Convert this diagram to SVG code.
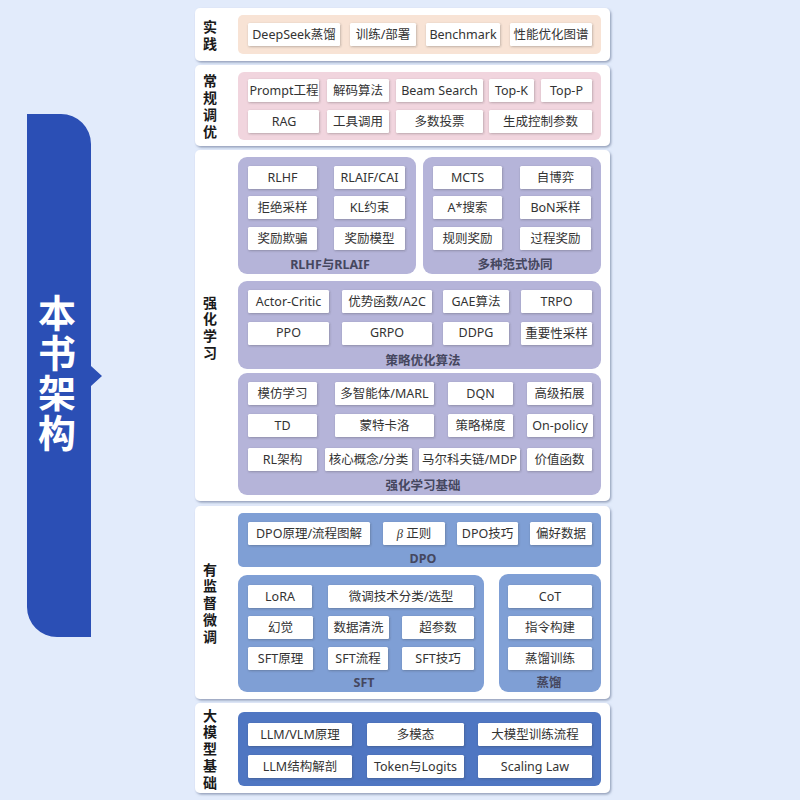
<svg xmlns="http://www.w3.org/2000/svg" width="800" height="800" viewBox="0 0 800 800">
<defs>
<filter id="sp" x="-5%" y="-10%" width="110%" height="120%"><feDropShadow dx="1.2" dy="1.5" stdDeviation="1.2" flood-color="#5a6a8a" flood-opacity="0.6"/></filter>
<filter id="sb" x="-10%" y="-20%" width="120%" height="140%"><feDropShadow dx="0.7" dy="0.9" stdDeviation="0.8" flood-color="#333" flood-opacity="0.3"/></filter>
</defs>
<style>
text{font-family:"Noto Sans","Noto Sans CJK SC",sans-serif;text-anchor:middle;dominant-baseline:central}
.p{fill:#fff;filter:url(#sp)}
.b{fill:#fff;filter:url(#sb);rx:1.5px}
.n text{font-size:12.5px;fill:#333;transform:translateY(0px)}
.s{font-size:14px;font-weight:700;fill:#1a1a1a;font-family:"Noto Sans CJK SC",sans-serif;transform:translateY(-0.5px)}
.t{font-size:12.5px;font-weight:700;fill:#45475f}
.o{fill:#f8e3d5}.k{fill:#f1d5de}.v{fill:#b5b4d9}.m{fill:#7f9fd5}.d{fill:#4f76c2}
</style>
<rect width="800" height="800" fill="#e2ebfb"/>
<g id="banner">
<path d="M27 114H61A30 30 0 0 1 91 144V366L102 376L91 386V637H57A30 30 0 0 1 27 607Z" fill="#2b4fb5"/>
<g style="font-family:'Noto Sans CJK SC',serif;font-size:38px;font-weight:700" fill="#fff">
<text x="57" y="312">本</text><text x="57" y="352">书</text><text x="57" y="392">架</text><text x="57" y="432">构</text>
</g></g>

<g id="panel-practice">
<rect class="p" x="195" y="8" width="415" height="53" rx="5"/>
<text class="s" x="210" y="26">实</text><text class="s" x="210" y="43">践</text>
<rect class="o" x="238" y="15" width="363" height="39" rx="5"/>
</g>
<g id="panel-tuning">
<rect class="p" x="195" y="65" width="415" height="81" rx="5"/>
<text class="s" x="210" y="80">常</text><text class="s" x="210" y="97">规</text><text class="s" x="210" y="114">调</text><text class="s" x="210" y="131">优</text>
<rect class="k" x="238" y="72" width="363" height="68" rx="6"/>
</g>
<g id="panel-rl">
<rect class="p" x="195" y="150" width="415" height="351" rx="5"/>
<text class="s" x="210" y="302">强</text><text class="s" x="210" y="318.500">化</text><text class="s" x="210" y="335">学</text><text class="s" x="210" y="352">习</text>
</g>
<g id="group-rlhf"><rect class="v" x="238" y="157" width="178" height="117" rx="9"/><text class="t" x="330" y="264">RLHF与RLAIF</text></g>
<g id="group-paradigm"><rect class="v" x="423" y="157" width="178" height="117" rx="9"/><text class="t" x="515" y="264">多种范式协同</text></g>
<g id="group-policy"><rect class="v" x="238" y="281" width="363" height="88" rx="9"/><text class="t" x="423" y="360">策略优化算法</text></g>
<g id="group-rlbase"><rect class="v" x="238" y="373" width="363" height="122" rx="9"/><text class="t" x="423" y="485">强化学习基础</text></g>
<g id="panel-supervised">
<rect class="p" x="195" y="506" width="415" height="193" rx="5"/>
<text class="s" x="210" y="569">有</text><text class="s" x="210" y="585.500">监</text><text class="s" x="210" y="602">督</text><text class="s" x="210" y="619">微</text><text class="s" x="210" y="636">调</text>
</g>
<g id="group-dpo"><rect class="m" x="238" y="513" width="363" height="54" rx="5"/><text class="t" x="423" y="558">DPO</text></g>
<g id="group-sft"><rect class="m" x="238" y="575" width="246" height="117" rx="9"/><text class="t" x="364" y="682">SFT</text></g>
<g id="group-distill"><rect class="m" x="499" y="574" width="102" height="118" rx="9"/><text class="t" x="549" y="682">蒸馏</text></g>
<g id="panel-basics">
<rect class="p" x="195" y="703" width="415" height="90" rx="5"/>
<text class="s" x="210" y="715">大</text><text class="s" x="210" y="731.500">模</text><text class="s" x="210" y="748">型</text><text class="s" x="210" y="765">基</text><text class="s" x="210" y="782">础</text>
<rect class="d" x="238" y="712" width="363" height="74" rx="6"/>
</g>

<g id="connectors"></g>

<g id="n1" class="n"><rect class="b" x="248" y="23" width="92" height="23"/><text x="294" y="34.5">DeepSeek蒸馏</text></g>
<g id="n2" class="n"><rect class="b" x="350" y="23" width="66" height="23"/><text x="383" y="34.5">训练/部署</text></g>
<g id="n3" class="n"><rect class="b" x="426" y="23" width="74" height="23"/><text x="463" y="34.5">Benchmark</text></g>
<g id="n4" class="n"><rect class="b" x="510" y="23" width="82" height="23"/><text x="551" y="34.5">性能优化图谱</text></g>

<g id="n5" class="n"><rect class="b" x="248" y="79" width="71" height="23"/><text x="284" y="90.5">Prompt工程</text></g>
<g id="n6" class="n"><rect class="b" x="327" y="79" width="62" height="23"/><text x="358" y="90.5">解码算法</text></g>
<g id="n7" class="n"><rect class="b" x="396" y="79" width="87" height="23"/><text x="439.5" y="90.5">Beam Search</text></g>
<g id="n8" class="n"><rect class="b" x="489" y="79" width="45" height="23"/><text x="511.5" y="90.5">Top-K</text></g>
<g id="n9" class="n"><rect class="b" x="541" y="79" width="51" height="23"/><text x="566.5" y="90.5">Top-P</text></g>
<g id="n10" class="n"><rect class="b" x="248" y="110" width="71" height="23"/><text x="284" y="121.5">RAG</text></g>
<g id="n11" class="n"><rect class="b" x="327" y="110" width="62" height="23"/><text x="358" y="121.5">工具调用</text></g>
<g id="n12" class="n"><rect class="b" x="396" y="110" width="87" height="23"/><text x="439.5" y="121.5">多数投票</text></g>
<g id="n13" class="n"><rect class="b" x="489" y="110" width="103" height="23"/><text x="540.5" y="121.5">生成控制参数</text></g>

<g id="n14" class="n"><rect class="b" x="248" y="166" width="69" height="23"/><text x="282.5" y="177.5">RLHF</text></g>
<g id="n15" class="n"><rect class="b" x="334" y="166" width="71" height="23"/><text x="369.5" y="177.5">RLAIF/CAI</text></g>
<g id="n16" class="n"><rect class="b" x="248" y="196" width="69" height="23"/><text x="282.5" y="207.5">拒绝采样</text></g>
<g id="n17" class="n"><rect class="b" x="334" y="196" width="71" height="23"/><text x="369.5" y="207.5">KL约束</text></g>
<g id="n18" class="n"><rect class="b" x="248" y="227" width="69" height="23"/><text x="282.5" y="238.5">奖励欺骗</text></g>
<g id="n19" class="n"><rect class="b" x="334" y="227" width="71" height="23"/><text x="369.5" y="238.5">奖励模型</text></g>

<g id="n20" class="n"><rect class="b" x="433" y="166" width="69" height="23"/><text x="467.5" y="177.5">MCTS</text></g>
<g id="n21" class="n"><rect class="b" x="520" y="166" width="71" height="23"/><text x="555.5" y="177.5">自博弈</text></g>
<g id="n22" class="n"><rect class="b" x="433" y="196" width="69" height="23"/><text x="467.5" y="207.5">A*搜索</text></g>
<g id="n23" class="n"><rect class="b" x="520" y="196" width="71" height="23"/><text x="555.5" y="207.5">BoN采样</text></g>
<g id="n24" class="n"><rect class="b" x="433" y="227" width="69" height="23"/><text x="467.5" y="238.5">规则奖励</text></g>
<g id="n25" class="n"><rect class="b" x="520" y="227" width="71" height="23"/><text x="555.5" y="238.5">过程奖励</text></g>

<g id="n26" class="n"><rect class="b" x="248" y="290" width="81" height="23"/><text x="288.5" y="301.5">Actor-Critic</text></g>
<g id="n27" class="n"><rect class="b" x="342" y="290" width="90" height="23"/><text x="387" y="301.5">优势函数/A2C</text></g>
<g id="n28" class="n"><rect class="b" x="443" y="290" width="66" height="23"/><text x="476" y="301.5">GAE算法</text></g>
<g id="n29" class="n"><rect class="b" x="521" y="290" width="71" height="23"/><text x="556.5" y="301.5">TRPO</text></g>
<g id="n30" class="n"><rect class="b" x="248" y="322" width="81" height="23"/><text x="288.5" y="332.5">PPO</text></g>
<g id="n31" class="n"><rect class="b" x="342" y="322" width="90" height="23"/><text x="387" y="332.5">GRPO</text></g>
<g id="n32" class="n"><rect class="b" x="443" y="322" width="66" height="23"/><text x="476" y="332.5">DDPG</text></g>
<g id="n33" class="n"><rect class="b" x="521" y="322" width="71" height="23"/><text x="556.5" y="333">重要性采样</text></g>

<g id="n34" class="n"><rect class="b" x="248" y="382" width="69" height="23"/><text x="282.5" y="393.5">模仿学习</text></g>
<g id="n35" class="n"><rect class="b" x="335" y="382" width="99" height="23"/><text x="384.5" y="393.5">多智能体/MARL</text></g>
<g id="n36" class="n"><rect class="b" x="448" y="382" width="65" height="23"/><text x="480.5" y="393.5">DQN</text></g>
<g id="n37" class="n"><rect class="b" x="527" y="382" width="65" height="23"/><text x="559.5" y="393.5">高级拓展</text></g>
<g id="n38" class="n"><rect class="b" x="248" y="414" width="69" height="23"/><text x="282.5" y="425">TD</text></g>
<g id="n39" class="n"><rect class="b" x="335" y="414" width="99" height="23"/><text x="384.5" y="425">蒙特卡洛</text></g>
<g id="n40" class="n"><rect class="b" x="448" y="414" width="65" height="23"/><text x="480.5" y="425">策略梯度</text></g>
<g id="n41" class="n"><rect class="b" x="527" y="414" width="66" height="23"/><text x="560" y="425">On-policy</text></g>
<g id="n42" class="n"><rect class="b" x="248" y="448" width="69" height="23"/><text x="282.5" y="459">RL架构</text></g>
<g id="n43" class="n"><rect class="b" x="325" y="448" width="87" height="23"/><text x="368.5" y="459">核心概念/分类</text></g>
<g id="n44" class="n"><rect class="b" x="419" y="448" width="101" height="23"/><text x="469.5" y="459">马尔科夫链/MDP</text></g>
<g id="n45" class="n"><rect class="b" x="527" y="448" width="65" height="23"/><text x="559.5" y="459">价值函数</text></g>

<g id="n46" class="n"><rect class="b" x="248" y="522" width="122" height="23"/><text x="309" y="533.5">DPO原理/流程图解</text></g>
<g id="n47" class="n"><rect class="b" x="383" y="522" width="62" height="23"/><text x="414" y="533.5"><tspan style="font-family:'Liberation Serif',serif;font-style:italic">β</tspan> 正则</text></g>
<g id="n48" class="n"><rect class="b" x="457" y="522" width="61" height="23"/><text x="487.5" y="533.5">DPO技巧</text></g>
<g id="n49" class="n"><rect class="b" x="530" y="522" width="62" height="23"/><text x="561" y="533.5">偏好数据</text></g>

<g id="n50" class="n"><rect class="b" x="248" y="585" width="64" height="23"/><text x="280" y="596">LoRA</text></g>
<g id="n51" class="n"><rect class="b" x="328" y="585" width="146" height="23"/><text x="401" y="596">微调技术分类/选型</text></g>
<g id="n52" class="n"><rect class="b" x="248" y="616" width="65" height="23"/><text x="280.5" y="627.5">幻觉</text></g>
<g id="n53" class="n"><rect class="b" x="328" y="616" width="61" height="23"/><text x="358.5" y="627.5">数据清洗</text></g>
<g id="n54" class="n"><rect class="b" x="402" y="616" width="72" height="23"/><text x="438" y="627.5">超参数</text></g>
<g id="n55" class="n"><rect class="b" x="248" y="647" width="65" height="23"/><text x="280.5" y="658.5">SFT原理</text></g>
<g id="n56" class="n"><rect class="b" x="328" y="647" width="60" height="23"/><text x="358" y="658.5">SFT流程</text></g>
<g id="n57" class="n"><rect class="b" x="402" y="647" width="72" height="23"/><text x="438" y="658.5">SFT技巧</text></g>
<g id="n58" class="n"><rect class="b" x="508" y="585" width="84" height="23"/><text x="550" y="596">CoT</text></g>
<g id="n59" class="n"><rect class="b" x="508" y="616" width="84" height="23"/><text x="550" y="627.5">指令构建</text></g>
<g id="n60" class="n"><rect class="b" x="508" y="647" width="84" height="23"/><text x="550" y="658.5">蒸馏训练</text></g>

<g id="n61" class="n"><rect class="b" x="248" y="723" width="104" height="23"/><text x="300" y="734.5">LLM/VLM原理</text></g>
<g id="n62" class="n"><rect class="b" x="367" y="723" width="97" height="23"/><text x="415.5" y="734.5">多模态</text></g>
<g id="n63" class="n"><rect class="b" x="478" y="723" width="114" height="23"/><text x="535" y="734.5">大模型训练流程</text></g>
<g id="n64" class="n"><rect class="b" x="248" y="755" width="104" height="23"/><text x="300" y="766">LLM结构解剖</text></g>
<g id="n65" class="n"><rect class="b" x="367" y="755" width="97" height="23"/><text x="415.5" y="766">Token与Logits</text></g>
<g id="n66" class="n"><rect class="b" x="478" y="755" width="114" height="23"/><text x="535" y="766">Scaling Law</text></g>
</svg>
